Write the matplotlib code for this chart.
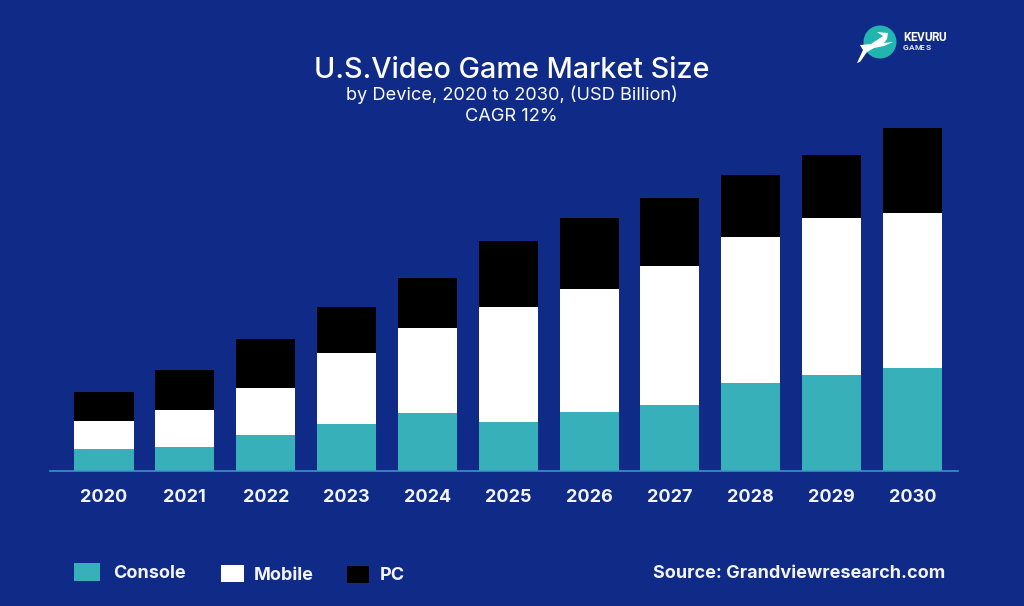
import matplotlib
matplotlib.use("Agg")
import matplotlib.pyplot as plt
from matplotlib.patches import Rectangle, Circle, Polygon

years = ["2020", "2021", "2022", "2023", "2024", "2025", "2026", "2027", "2028", "2029", "2030"]
console = [22, 24, 36, 47, 58, 49, 59, 66, 88, 96, 103]
mobile = [28, 37, 47, 71, 85, 115, 123, 139, 146, 157, 155]
pc = [29, 40, 49, 46, 50, 66, 71, 68, 62, 63, 85]
legend_names = ["Console", "Mobile", "PC"]

BG = "#0F2B87"
TEAL = "#38B0BA"
W, H = 1024, 606
plt.rcParams["font.family"] = ["Inter", "DejaVu Sans"]

fig = plt.figure(figsize=(W / 100, H / 100), dpi=100, facecolor=BG)
ax = fig.add_axes([50 / W, (H - 471) / H, 908 / W, 371 / H], facecolor="none")

x = list(range(len(years)))
bottom2 = [a + b for a, b in zip(console, mobile)]
ax.bar(x, console, width=0.73, color=TEAL)
ax.bar(x, mobile, width=0.73, bottom=console, color="white")
ax.bar(x, pc, width=0.73, bottom=bottom2, color="black")

ax.set_xlim(-0.668, 10.563)
ax.set_ylim(0, 371)
ax.set_yticks([])
ax.set_xticks(x)
ax.set_xticklabels(years, fontsize=13, fontweight="bold", color="#F2F4FA")
ax.tick_params(axis="x", length=0, pad=13)
for s in ["top", "left", "right"]:
    ax.spines[s].set_visible(False)
ax.spines["bottom"].set_color("#3A94C4")
ax.spines["bottom"].set_linewidth(1.2)


def px(xp, yp):
    return xp / W, 1 - yp / H


def put(xp, yp, s, **kw):
    fig.text(*px(xp, yp), s, va="center", color=kw.pop("color", "white"), **kw)


put(511.5, 70, "U.S.Video Game Market Size", ha="center", fontsize=20.7, fontweight="medium")
put(511.5, 95, "by Device, 2020 to 2030, (USD Billion)", ha="center", fontsize=13.1)
put(511.5, 117, "CAGR 12%", ha="center", fontsize=13.1)

# legend
swatches = [(74, 563, 26, 18, TEAL), (221, 565, 23, 17, "white"), (347, 566, 22, 17, "black")]
text_x = [113, 254, 380]
text_y = [574, 576, 576]
for (sx, sy, sw, sh, col), name, tx, ty in zip(swatches, legend_names, text_x, text_y):
    fig.add_artist(Rectangle(px(sx, sy + sh), sw / W, sh / H, transform=fig.transFigure,
                             facecolor=col, edgecolor="none"))
    put(tx, ty, name, ha="left", fontsize=13, fontweight="bold", color="#F2F4FA")

put(945, 574, "Source: Grandviewresearch.com", ha="right", fontsize=13, fontweight="bold", color="#F2F4FA")

# logo
logo_ax = fig.add_axes([0, 0, 1, 1], facecolor="none")
logo_ax.set_xlim(0, W)
logo_ax.set_ylim(H, 0)
logo_ax.axis("off")
logo_ax.add_patch(Circle((880, 42), 16.5, facecolor="#22B5B0", edgecolor="none"))
deer = [(857, 63), (863, 50), (860, 45), (871, 44), (883, 36), (877, 32), (888, 33), (887, 39),
        (884, 43), (893, 42), (884, 46), (874, 48), (867, 52), (860, 62)]
logo_ax.add_patch(Polygon(deer, closed=True, facecolor="white", edgecolor="none"))
for i, ch in enumerate("KEVURU"):
    logo_ax.text(903 + i * 7, 37.5, ch, fontsize=8.5, fontweight="bold", color="white", va="center",
                 family=["Roboto", "DejaVu Sans"])
for i, ch in enumerate("GAMES"):
    logo_ax.text(903 + i * 5.6, 47.5, ch, fontsize=6, fontweight="bold", color="#DDE6F5", va="center",
                 family=["Roboto", "DejaVu Sans"])

fig.savefig("out.png", dpi=100, facecolor=BG)
